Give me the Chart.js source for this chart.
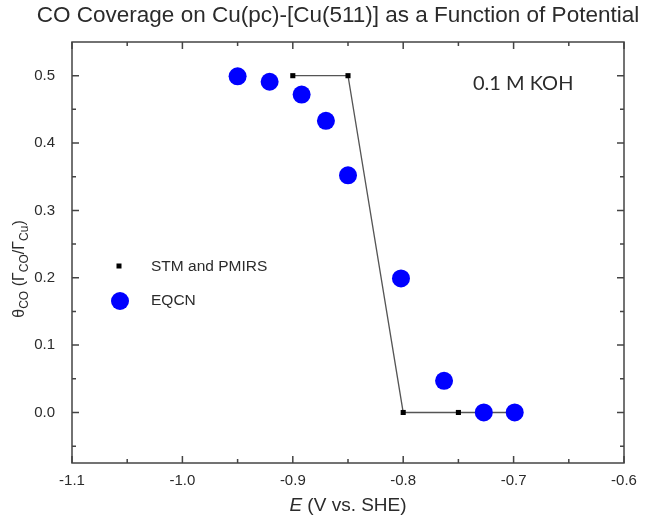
<!DOCTYPE html>
<html>
<head>
<meta charset="utf-8">
<script src="https://cdn.jsdelivr.net/npm/chart.js@4.4.0/dist/chart.umd.min.js"></script>
<style>
  html, body { margin: 0; padding: 0; background: #fff; }
  #wrap { width: 658px; height: 520px; }
</style>
</head>
<body>
<div id="wrap"><canvas id="chart" width="658" height="520"></canvas></div>
<script>
// --- DATA ---
const stmX = [-0.9, -0.85, -0.8, -0.75, -0.7];
const stmY = [0.5, 0.5, 0.0, 0.0, 0.0];
const eqcnX = [-0.950, -0.921, -0.892, -0.870, -0.850, -0.802, -0.763, -0.727, -0.699];
const eqcnY = [0.499, 0.491, 0.472, 0.433, 0.352, 0.199, 0.047, 0.0, 0.0];
const xTicks = [-1.1, -1.0, -0.9, -0.8, -0.7, -0.6];
const yTicks = [0.0, 0.1, 0.2, 0.3, 0.4, 0.5];
const xMinor = [-1.05, -0.95, -0.85, -0.75, -0.65];
const yMinor = [-0.05, 0.05, 0.15, 0.25, 0.35, 0.45];

const SANS = '"Liberation Sans", Arial, sans-serif';
const TEXT = '#2b2b2b';

// --- PLUGIN : cadre, ticks vers l'intérieur, titres, légende ---
const decorPlugin = {
  id: 'decor',
  afterDraw(chart) {
    const { ctx, chartArea: a, scales: { x, y } } = chart;
    ctx.save();

    // cadre
    ctx.strokeStyle = '#444';
    ctx.lineWidth = 1.5;
    ctx.strokeRect(a.left, a.top, a.right - a.left, a.bottom - a.top);

    // ticks (majeurs + mineurs) sur les 4 côtés
    const xt = (v, len) => {
      const px = x.getPixelForValue(v);
      ctx.beginPath();
      ctx.moveTo(px, a.bottom); ctx.lineTo(px, a.bottom - len);
      ctx.moveTo(px, a.top); ctx.lineTo(px, a.top + len);
      ctx.stroke();
    };
    const yt = (v, len) => {
      const py = y.getPixelForValue(v);
      ctx.beginPath();
      ctx.moveTo(a.left, py); ctx.lineTo(a.left + len, py);
      ctx.moveTo(a.right, py); ctx.lineTo(a.right - len, py);
      ctx.stroke();
    };
    xTicks.forEach(v => xt(v, 7));
    xMinor.forEach(v => xt(v, 4));
    yTicks.forEach(v => yt(v, 7));
    yMinor.forEach(v => yt(v, 4));

    ctx.fillStyle = TEXT;
    ctx.textBaseline = 'middle';

    // titre
    ctx.font = '22.5px ' + SANS;
    ctx.textAlign = 'center';
    ctx.fillText('CO Coverage on Cu(pc)-[Cu(511)] as a Function of Potential', 338, 16);

    // annotation
    ctx.font = '20px Lato, "Open Sans", sans-serif';
    ctx.textAlign = 'left';
    ctx.fillText('0.1 M KOH', 473, 84);

    // titre axe x : E (V vs. SHE)
    ctx.font = 'italic 19px ' + SANS;
    const wE = ctx.measureText('E').width;
    ctx.font = '19px ' + SANS;
    const rest = ' (V vs. SHE)';
    const wR = ctx.measureText(rest).width;
    let sx = 348 - (wE + wR) / 2;
    ctx.font = 'italic 19px ' + SANS;
    ctx.fillText('E', sx, 506);
    ctx.font = '19px ' + SANS;
    ctx.fillText(rest, sx + wE, 506);

    // titre axe y : θCO (ΓCO/ΓCu)
    const parts = [
      ['\u03B8', false], ['CO', true], [' (\u0393', false], ['CO', true],
      ['/\u0393', false], ['Cu', true], [')', false]
    ];
    const fMain = '16px ' + SANS, fSub = '12px ' + SANS;
    let total = 0;
    parts.forEach(([t, sub]) => { ctx.font = sub ? fSub : fMain; total += ctx.measureText(t).width; });
    ctx.translate(20, 269);
    ctx.rotate(-Math.PI / 2);
    let cx = -total / 2;
    parts.forEach(([t, sub]) => {
      ctx.font = sub ? fSub : fMain;
      ctx.fillText(t, cx, sub ? 5 : 0);
      cx += ctx.measureText(t).width;
    });
    ctx.setTransform(1, 0, 0, 1, 0, 0);

    // légende
    ctx.fillStyle = '#000';
    ctx.fillRect(116.5, 263.5, 5, 5);
    ctx.fillStyle = '#0000ff';
    ctx.beginPath();
    ctx.arc(120, 301, 9, 0, Math.PI * 2);
    ctx.fill();
    ctx.fillStyle = TEXT;
    ctx.font = '15.5px ' + SANS;
    ctx.fillText('STM and PMIRS', 151, 267);
    ctx.fillText('EQCN', 151, 301);

    ctx.restore();
  }
};

const ctx = document.getElementById('chart').getContext('2d');

new Chart(ctx, {
  type: 'scatter',
  data: {
    datasets: [
      {
        label: 'EQCN',
        data: eqcnX.map((v, i) => ({ x: v, y: eqcnY[i] })),
        pointStyle: 'circle',
        pointRadius: 9,
        pointHoverRadius: 9,
        backgroundColor: '#0000ff',
        borderWidth: 0,
        showLine: false,
        order: 0
      },
      {
        label: 'STM and PMIRS',
        data: stmX.map((v, i) => ({ x: v, y: stmY[i] })),
        showLine: true,
        borderColor: '#555',
        borderWidth: 1.3,
        pointStyle: 'rect',
        pointRadius: 3.6,
        pointBackgroundColor: '#000',
        pointBorderWidth: 0,
        order: 1
      }
    ]
  },
  options: {
    responsive: false,
    animation: false,
    layout: { padding: { top: 42, right: 34, left: 0, bottom: 0 } },
    plugins: { legend: { display: false }, tooltip: { enabled: false }, title: { display: false } },
    scales: {
      x: {
        type: 'linear',
        min: -1.1, max: -0.6,
        grid: { display: false },
        border: { display: false },
        afterFit: s => { s.height = 57; },
        afterBuildTicks: s => { s.ticks = xTicks.map(v => ({ value: v })); },
        ticks: {
          padding: 1,
          color: TEXT,
          font: { family: SANS, size: 15 },
          callback: v => v.toFixed(1)
        }
      },
      y: {
        type: 'linear',
        min: -0.075, max: 0.55,
        grid: { display: false },
        border: { display: false },
        afterFit: s => { s.width = 72; },
        afterBuildTicks: s => { s.ticks = yTicks.map(v => ({ value: v })); },
        ticks: {
          padding: 9,
          color: TEXT,
          font: { family: SANS, size: 15 },
          callback: v => v.toFixed(1)
        }
      }
    }
  },
  plugins: [decorPlugin]
});
</script>
</body>
</html>
